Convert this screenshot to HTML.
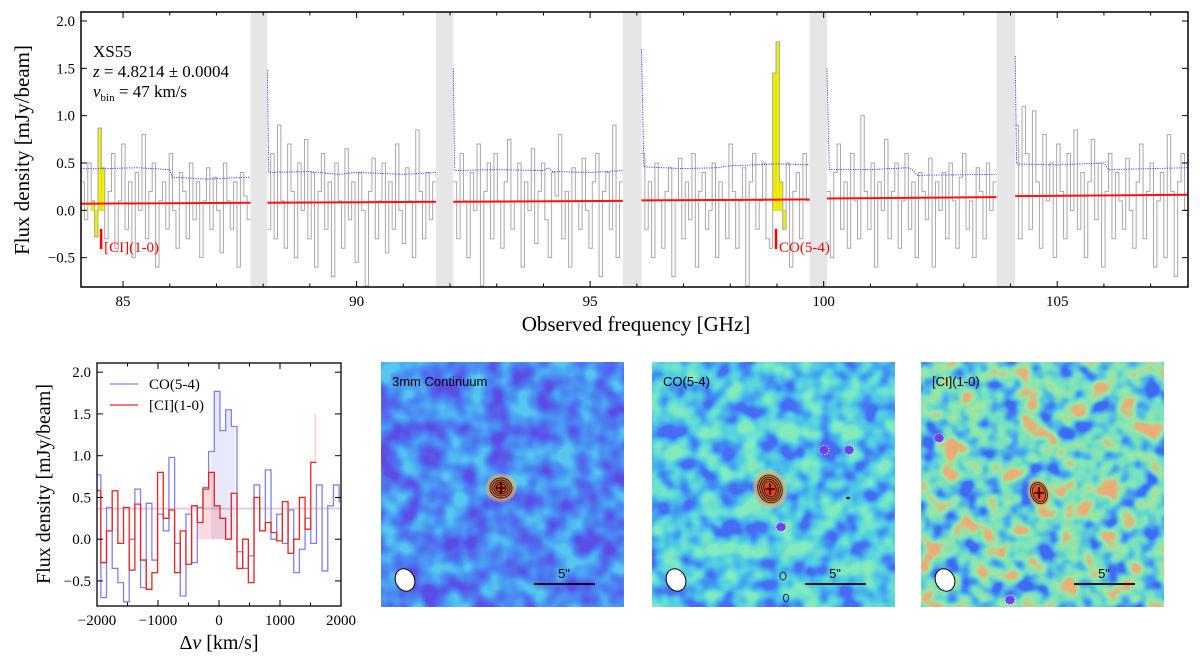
<!DOCTYPE html>
<html><head><meta charset="utf-8"><style>
body{margin:0;background:#fff}
svg{display:block;font-family:"Liberation Serif",serif}
.sans{font-family:"Liberation Sans",sans-serif}
</style></head><body>
<svg id="fig" width="1200" height="661" viewBox="0 0 1200 661">
<defs>
<filter id="map1" x="0" y="0" width="100%" height="100%" color-interpolation-filters="sRGB">
<feTurbulence type="fractalNoise" baseFrequency="0.045" numOctaves="2" seed="3"/>
<feColorMatrix type="matrix" values="1 0 0 0 0 1 0 0 0 0 1 0 0 0 0 0 0 0 0 1"/>
<feComponentTransfer><feFuncR type="linear" slope="2.2" intercept="-0.6"/><feFuncG type="linear" slope="2.2" intercept="-0.6"/><feFuncB type="linear" slope="2.2" intercept="-0.6"/></feComponentTransfer>
<feComponentTransfer><feFuncR type="table" tableValues="0.36 0.32 0.29 0.30 0.34"/><feFuncG type="table" tableValues="0.30 0.42 0.54 0.66 0.78"/><feFuncB type="table" tableValues="0.90 0.94 0.95 0.95 0.94"/></feComponentTransfer>
</filter>
<filter id="map2" x="0" y="0" width="100%" height="100%" color-interpolation-filters="sRGB">
<feTurbulence type="fractalNoise" baseFrequency="0.05" numOctaves="2" seed="11"/>
<feColorMatrix type="matrix" values="1 0 0 0 0 1 0 0 0 0 1 0 0 0 0 0 0 0 0 1"/>
<feComponentTransfer><feFuncR type="linear" slope="2.2" intercept="-0.6"/><feFuncG type="linear" slope="2.2" intercept="-0.6"/><feFuncB type="linear" slope="2.2" intercept="-0.6"/></feComponentTransfer>
<feComponentTransfer><feFuncR type="table" tableValues="0.28 0.26 0.30 0.40 0.52"/><feFuncG type="table" tableValues="0.42 0.62 0.78 0.87 0.92"/><feFuncB type="table" tableValues="0.95 0.95 0.90 0.83 0.74"/></feComponentTransfer>
</filter>
<filter id="map3" x="0" y="0" width="100%" height="100%" color-interpolation-filters="sRGB">
<feTurbulence type="fractalNoise" baseFrequency="0.05" numOctaves="2" seed="27"/>
<feColorMatrix type="matrix" values="1 0 0 0 0 1 0 0 0 0 1 0 0 0 0 0 0 0 0 1"/>
<feComponentTransfer><feFuncR type="linear" slope="2.2" intercept="-0.6"/><feFuncG type="linear" slope="2.2" intercept="-0.6"/><feFuncB type="linear" slope="2.2" intercept="-0.6"/></feComponentTransfer>
<feComponentTransfer><feFuncR type="table" tableValues="0.25 0.30 0.45 0.62 0.92"/><feFuncG type="table" tableValues="0.42 0.70 0.88 0.90 0.68"/><feFuncB type="table" tableValues="0.95 0.92 0.76 0.64 0.46"/></feComponentTransfer>
</filter>
<radialGradient id="src"><stop offset="0" stop-color="#e02010"/><stop offset="0.5" stop-color="#f06030"/><stop offset="0.8" stop-color="#f0b060" stop-opacity="0.7"/><stop offset="1" stop-color="#f0e080" stop-opacity="0"/></radialGradient>
<clipPath id="topclip"><rect x="81" y="12" width="1107" height="275"/></clipPath>
<clipPath id="blclip"><rect x="97" y="363" width="244" height="243"/></clipPath>
</defs>
<g id="topPanel"></g>
<g id="bl"></g>
<g id="maps"></g>
</svg>
<script>
const NS="http://www.w3.org/2000/svg";
function el(tag,attrs,parent,txt){const e=document.createElementNS(NS,tag);for(const k in attrs)e.setAttribute(k,attrs[k]);if(txt!==undefined)e.textContent=txt;parent.appendChild(e);return e;}

// ---------- top panel data ----------
const winStart=[84.1,88.09,92.07,96.1,100.07,104.1];
const winEnd=[87.73,91.7,95.7,99.7,103.7,107.8];
const gapStart=[87.73,91.7,95.7,99.7,103.7];
const gapEnd=[88.09,92.07,96.1,100.07,104.1];
const flux1=[0.3,-0.1,0.5,0.1,-0.28,0.87,0.45,-0.3,0.2,0.6,-0.4,0.1,0.7,-0.2,0.3,-0.5,0.4,0.0,0.8,-0.3,0.2,0.5,-0.6,0.1,0.3,-0.2,0.6,0.0,-0.4,0.4,0.2,-0.3,0.5,-0.1,0.3,-0.5,0.1,0.45,-0.2,0.35,0.0,-0.45,0.5,0.1,-0.2,0.3,-0.6,0.4,0.15,-0.1];
const flux2=[-0.2,0.6,-0.3,0.9,0.1,-0.4,0.7,0.2,-0.5,0.5,0.0,0.75,-0.3,0.4,-0.6,0.2,0.6,-0.2,0.3,-0.7,0.5,0.1,-0.4,0.65,-0.1,0.3,-0.55,0.4,0.0,-0.8,0.2,0.55,-0.3,0.1,0.5,-0.45,0.3,-0.2,0.7,0.0,-0.35,0.45,0.1,-0.5,0.85,0.2,-0.3,0.4,-0.1,0.3];
const flux3=[0.3,-0.3,0.6,0.1,-0.5,0.4,0.0,0.7,-0.8,0.2,0.5,-0.3,0.6,0.1,-0.4,0.3,0.75,-0.2,0.1,0.5,-0.6,0.3,0.0,0.65,-0.35,0.2,0.5,-0.1,-0.5,0.4,0.15,0.8,-0.3,0.2,-0.6,0.45,0.1,-0.2,0.55,0.0,-0.4,0.3,0.6,-0.7,0.2,0.4,-0.2,0.9,-0.5,0.3];
const flux4=[0.6,-0.2,0.3,-0.5,0.5,0.1,-0.4,0.2,0.45,-0.7,0.1,0.55,-0.3,0.3,-0.1,0.6,-0.6,0.2,0.4,-0.2,0.0,0.5,-0.5,0.3,0.1,-0.3,0.7,0.2,-0.4,0.1,0.45,-0.8,0.3,0.6,-0.2,0.1,0.5,-0.3,-0.4,1.45,1.78,0.3,-0.2,0.5,-0.6,0.2,0.4,-0.3,0.6,0.1];
const flux5=[0.2,-0.5,0.4,0.7,-0.2,0.3,-0.4,0.6,0.1,-0.3,1.0,0.2,-0.2,0.5,-0.6,0.3,0.0,0.75,-0.3,0.2,0.5,-0.4,0.1,0.6,-0.2,0.3,-0.5,0.4,0.2,-0.1,0.55,-0.6,0.3,0.0,0.4,-0.3,0.5,0.1,-0.4,0.35,0.6,-0.2,0.1,-0.5,0.45,0.2,-0.3,0.5,0.0,0.3];
const flux6=[0.9,-0.3,1.1,0.6,-0.2,1.05,0.3,-0.4,0.8,0.1,0.5,-0.5,0.7,0.2,-0.3,0.6,0.0,0.85,-0.2,0.4,-0.5,0.3,0.75,-0.1,0.5,-0.6,0.2,0.6,-0.3,0.4,0.1,-0.2,0.55,0.0,-0.4,0.3,0.7,-0.3,0.2,0.5,-0.6,0.1,0.4,-0.5,0.8,0.2,-0.7,0.3,0.6,0.0];
const fluxWin=[flux1,flux2,flux3,flux4,flux5,flux6];
const contStartVal=[0.07,0.08,0.09,0.105,0.125,0.15];
const contEndVal=[0.08,0.09,0.10,0.115,0.14,0.165];
const noiseF=[[84.1,84.6,85.3,86.0,86.05,86.8,87.73],[88.09,88.12,89.0,89.6,90.0,91.0,91.7],[92.07,92.1,93.0,94.0,94.1,94.2,95.0,95.7],[96.1,96.15,97.0,97.7,98.0,99.0,99.7],[100.07,100.12,101.0,101.8,101.9,102.0,103.7],[104.1,104.13,105.0,106.0,106.1,107.8]];
const noiseV=[[0.44,0.44,0.45,0.43,0.35,0.33,0.35],[1.48,0.40,0.41,0.38,0.40,0.38,0.40],[1.5,0.42,0.43,0.42,0.45,0.41,0.40,0.42],[1.7,0.46,0.44,0.45,0.47,0.49,0.48],[1.5,0.43,0.43,0.45,0.43,0.37,0.38],[1.63,0.49,0.48,0.50,0.43,0.45]];
const lineRanges=[[84.35,84.6],[98.88,99.2]];
const lineMarkF=[84.53,98.98];
const lineNames=["[CI](1-0)","CO(5-4)"];
const topXTicks=[85,90,95,100,105];
const topYTicks=[-0.5,0.0,0.5,1.0,1.5,2.0];

const TX0=81,TX1=1188,TY0=12,TY1=287,FMIN=84.1,FMAX=107.8,YMIN=-0.81,YMAX=2.095;
const fx=f=>TX0+(f-FMIN)/(FMAX-FMIN)*(TX1-TX0);
const fy=v=>TY1-(v-YMIN)/(YMAX-YMIN)*(TY1-TY0);
const topG=document.getElementById('topPanel');
let t;

gapStart.forEach((g,i)=>{const r=el('rect',{x:fx(g),y:TY0,width:fx(gapEnd[i])-fx(g),height:TY1-TY0,fill:'#e6e6e6'},topG);

});
const tc=el('g',{'clip-path':'url(#topclip)'},topG);
fluxWin.forEach((arr,w)=>{
  const s=winStart[w],e=winEnd[w],st=(e-s)/arr.length;
  arr.forEach((v,i)=>{const c=s+(i+0.5)*st;lineRanges.forEach(r=>{if(c>=r[0]&&c<=r[1]){
    const y=el('rect',{x:fx(s+i*st),y:Math.min(fy(v),fy(0)),width:fx(s+(i+1)*st)-fx(s+i*st),height:Math.abs(fy(v)-fy(0)),fill:'#f2f200',stroke:'#d8d800','stroke-width':0.8},tc);
    
    }});});
  let d='';arr.forEach((v,i)=>{const x0=fx(s+i*st),x1=fx(s+(i+1)*st);d+=(i?'L':'M')+x0+','+fy(v)+'L'+x1+','+fy(v);});
  const p=el('path',{d:d,fill:'none',stroke:'#a8a8a8','stroke-width':1},tc);
  
  
  const c=el('line',{x1:fx(s),x2:fx(e),y1:fy(contStartVal[w]),y2:fy(contEndVal[w]),stroke:'#ff1010','stroke-width':2},tc);
  
  
  const np=el('polyline',{points:noiseF[w].map((f,i)=>fx(f)+','+fy(noiseV[w][i])).join(' '),fill:'none',stroke:'#4040ff','stroke-width':1,'stroke-dasharray':'1.2,1.2'},tc);
  
  
});
lineMarkF.forEach((f,i)=>{
  const m=el('line',{x1:fx(f),x2:fx(f),y1:229,y2:249,stroke:'#ff0000','stroke-width':2.5},topG);
  
  
  const tl=el('text',{x:fx(f)+3,y:252,fill:'#ff0000','font-size':15},topG,lineNames[i]);
  
  
});
el('rect',{x:TX0,y:TY0,width:TX1-TX0,height:TY1-TY0,fill:'none',stroke:'#000','stroke-width':1.5},topG);
for(let f=85;f<=107;f++){const L=f%5==0?6:3.5;el('line',{x1:fx(f),x2:fx(f),y1:TY1,y2:TY1-L,stroke:'#000'},topG);el('line',{x1:fx(f),x2:fx(f),y1:TY0,y2:TY0+L,stroke:'#000'},topG);}
topXTicks.forEach(f=>{const tl=el('text',{x:fx(f),y:306,'text-anchor':'middle','font-size':15},topG,String(f));});
topYTicks.forEach(v=>{el('line',{x1:TX0,x2:TX0+6,y1:fy(v),y2:fy(v),stroke:'#000'},topG);el('line',{x1:TX1,x2:TX1-6,y1:fy(v),y2:fy(v),stroke:'#000'},topG);
 const tl=el('text',{x:TX0-6,y:fy(v)+5,'text-anchor':'end','font-size':15},topG,(v<0?'\u2212':'')+Math.abs(v).toFixed(1));});
t=el('text',{x:636,y:331,'text-anchor':'middle','font-size':21},topG,'Observed frequency [GHz]');
t=el('text',{x:0,y:0,'text-anchor':'middle','font-size':21,transform:'translate(29,150) rotate(-90)'},topG,'Flux density [mJy/beam]');
t=el('text',{x:93,y:57,'font-size':17},topG,'XS55');
t=el('text',{x:93,y:77,'font-size':17},topG);t.innerHTML='<tspan font-style="italic">z</tspan> = 4.8214 ± 0.0004';
t=el('text',{x:93,y:97,'font-size':17},topG);t.innerHTML='<tspan font-style="italic">v</tspan><tspan font-size="11" dy="4">bin</tspan><tspan dy="-4"> = 47 km/s</tspan>';

// ---------- bottom-left line profile ----------
const velStart=-2030, velStep=93;
const coFlux=[0.77,-0.7,0.38,-0.35,-0.52,-0.75,0.0,0.6,-0.58,0.43,-0.25,0.3,0.1,0.98,-0.05,-0.68,0.3,-0.28,0.38,0.62,1.05,1.77,1.3,1.55,1.35,-0.15,-0.35,-0.2,0.65,0.1,0.83,0.0,0.3,-0.05,0.35,-0.4,-0.12,0.25,-0.05,0.65,-0.38,0.4,0.65,0.45];
const ciFlux=[0.58,-0.28,0.1,0.58,-0.05,0.38,-0.37,0.42,-0.25,-0.6,-0.4,0.8,0.25,0.35,-0.4,0.1,-0.3,0.4,0.2,0.6,0.8,0.4,0.25,0.0,0.55,-0.35,0.0,-0.52,0.5,0.1,0.2,0.08,-0.02,0.45,-0.17,0.0,0.5,0.12,0.92];
const coShade=[-130,260], ciShade=[-350,210];
const coRms=0.36, ciRms=0.37;
const blXTicks=[-2000,-1000,0,1000,2000];
const blYTicks=[-0.5,0.0,0.5,1.0,1.5,2.0];
const BX0=97,BX1=341,BY0=363,BY1=606,VMIN=-2000,VMAX=2000,BYMIN=-0.8,BYMAX=2.11;
const vx=v=>BX0+(v-VMIN)/(VMAX-VMIN)*(BX1-BX0);
const vy=f=>BY1-(f-BYMIN)/(BYMAX-BYMIN)*(BY1-BY0);
const bl=document.getElementById('bl');
const bc=el('g',{'clip-path':'url(#blclip)'},bl);
function shade(arr,rng,col){let d='M'+vx(rng[0])+','+vy(0);arr.forEach((f,i)=>{const a=velStart+i*velStep,b=a+velStep;if(b<=rng[0]||a>=rng[1])return;const lo=Math.max(a,rng[0]),hi=Math.min(b,rng[1]);d+='L'+vx(lo)+','+vy(f)+'L'+vx(hi)+','+vy(f);});d+='L'+vx(rng[1])+','+vy(0)+'Z';return el('path',{d:d,fill:col,stroke:'none'},bc);}
let s1=shade(coFlux,coShade,'rgba(110,110,240,0.15)');
let s2=shade(ciFlux,ciShade,'rgba(230,80,80,0.2)');
let r1=el('line',{x1:BX0,x2:BX1,y1:vy(ciRms),y2:vy(ciRms),stroke:'rgba(230,80,80,0.25)','stroke-width':1.5},bc);
let r2=el('line',{x1:BX0,x2:BX1,y1:vy(coRms),y2:vy(coRms),stroke:'rgba(110,110,240,0.2)','stroke-width':1.5},bc);
function steps(arr,col,name){let d='';arr.forEach((f,i)=>{const a=velStart+i*velStep;d+=(i?'L':'M')+vx(a)+','+vy(f)+'L'+vx(a+velStep)+','+vy(f);});const p=el('path',{d:d,fill:'none',stroke:col,'stroke-width':1.3},bc);}
steps(coFlux,'#8080f0','co-spectrum');
steps(ciFlux,'#f02020','ci-spectrum');
el('line',{x1:vx(1575),x2:vx(1575),y1:vy(0.92),y2:vy(1.5),stroke:'rgba(240,80,80,0.25)','stroke-width':1.5},bc);
el('rect',{x:BX0,y:BY0,width:BX1-BX0,height:BY1-BY0,fill:'none',stroke:'#000','stroke-width':1.3},bl);
for(let v=-2000;v<=2000;v+=500){const L=v%1000==0?6:3.5;el('line',{x1:vx(v),x2:vx(v),y1:BY1,y2:BY1-L,stroke:'#000'},bl);el('line',{x1:vx(v),x2:vx(v),y1:BY0,y2:BY0+L,stroke:'#000'},bl);}
blXTicks.forEach(v=>{const tl=el('text',{x:vx(v),y:625,'text-anchor':'middle','font-size':15},bl,(v<0?'\u2212':'')+Math.abs(v));});
blYTicks.forEach(v=>{el('line',{x1:BX0,x2:BX0+6,y1:vy(v),y2:vy(v),stroke:'#000'},bl);el('line',{x1:BX1,x2:BX1-6,y1:vy(v),y2:vy(v),stroke:'#000'},bl);
 const tl=el('text',{x:BX0-6,y:vy(v)+5,'text-anchor':'end','font-size':15},bl,(v<0?'\u2212':'')+Math.abs(v).toFixed(1));});
t=el('text',{x:219,y:649,'text-anchor':'middle','font-size':20},bl);t.innerHTML='Δ<tspan font-style="italic">v</tspan> [km/s]';
t=el('text',{x:0,y:0,'text-anchor':'middle','font-size':20,transform:'translate(50,484) rotate(-90)'},bl,'Flux density [mJy/beam]');
const lg=el('g',{},bl);
el('line',{x1:110,x2:138,y1:384,y2:384,stroke:'#8080f0','stroke-width':1.3},lg);
t=el('text',{x:149,y:389,'font-size':15},lg,'CO(5-4)');
el('line',{x1:110,x2:138,y1:405,y2:405,stroke:'#f02020','stroke-width':1.3},lg);
t=el('text',{x:149,y:410,'font-size':15},lg,'[CI](1-0)');

// ---------- maps ----------
const mapsG=document.getElementById('maps');
const mapX=[381,652,921], mapTitle=['3mm Continuum','CO(5-4)','[CI](1-0)'];
const srcX=[120,118,118], srcY=[126,127,131], srcRx=[11,12,8], srcRy=[10,14,11];
const MY=362,MW=243,MH=245;
mapX.forEach((x,i)=>{
  const g=el('g',{},mapsG);
  
  
  el('rect',{x:x,y:MY,width:MW,height:MH,filter:'url(#map'+(i+1)+')'},g);
  const cx=x+srcX[i],cy=MY+srcY[i];
  const rot=i>0?'rotate(-20 '+cx+' '+cy+')':'rotate(0)';
  const blob=el('ellipse',{cx:cx,cy:cy,rx:srcRx[i]*1.5,ry:srcRy[i]*1.5,fill:'url(#src)',transform:rot},g);
  
  
  const n=i==2?2:4;
  for(let k=0;k<n;k++){el('ellipse',{cx:cx,cy:cy,rx:srcRx[i]-k*2,ry:srcRy[i]-k*2,fill:'none',stroke:'#102010','stroke-width':0.9,transform:rot},g);}
  el('path',{d:'M'+(cx-5)+','+cy+'H'+(cx+5)+'M'+cx+','+(cy-6)+'V'+(cy+6),stroke:'#000','stroke-width':1.3},g);
  const tt=el('text',{x:x+11,y:MY+24,'font-size':13,'class':'sans'},g,mapTitle[i]);
  
  
  const beam=el('ellipse',{cx:x+24,cy:MY+218,rx:9.5,ry:11.5,fill:'#fff',stroke:'#000','stroke-width':1,transform:'rotate(-25 '+(x+24)+' '+(MY+218)+')'},g);
  
  
  const sb=el('line',{x1:x+153,x2:x+214,y1:MY+222,y2:MY+222,stroke:'#000','stroke-width':1.8},g);
  
  
  const st=el('text',{x:x+183,y:MY+216,'text-anchor':'middle','font-size':13,'class':'sans'},g,'5"');
  
  
});
[[652+172,362+88],[652+197,362+88],[652+129,362+165],[921+18,362+76],[921+89,362+238]].forEach(p=>{el('ellipse',{cx:p[0],cy:p[1],rx:5,ry:4.5,fill:'#7040f0',stroke:'#fff','stroke-width':0.8,'stroke-dasharray':'1.5,1.5'},mapsG);});
el('ellipse',{cx:652+131,cy:362+214,rx:3,ry:4,fill:'none',stroke:'#000','stroke-width':0.8},mapsG);
el('ellipse',{cx:652+134,cy:362+236,rx:2.5,ry:4,fill:'none',stroke:'#000','stroke-width':0.8},mapsG);
el('ellipse',{cx:652+196,cy:362+136,rx:1.8,ry:1.2,fill:'#000'},mapsG);
</script>
</body></html>
